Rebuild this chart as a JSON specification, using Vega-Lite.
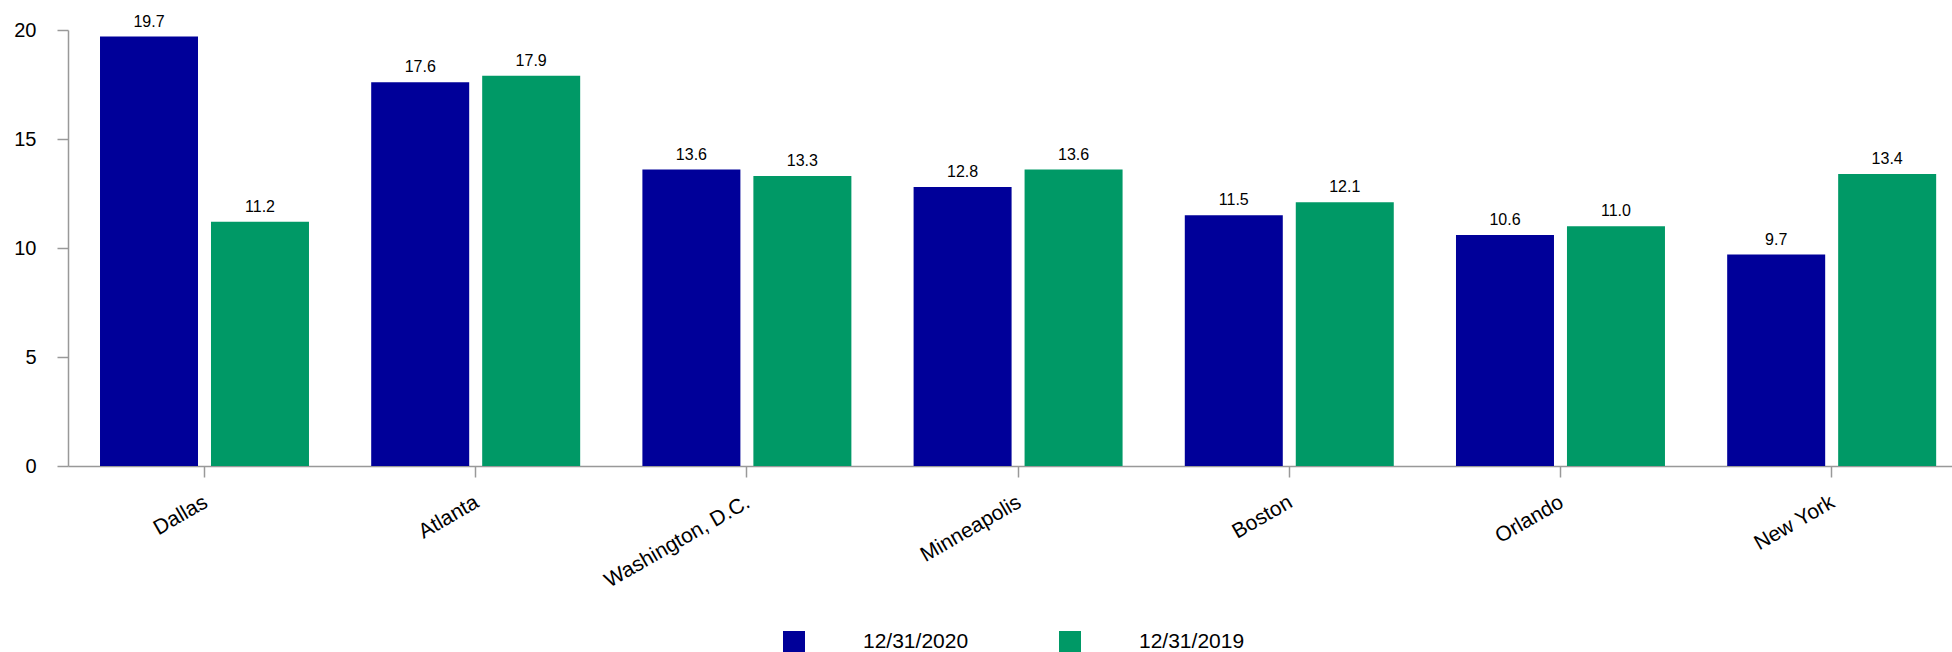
{
  "$schema": "https://vega.github.io/schema/vega-lite/v6.json",
  "autosize": {"type": "none"},
  "padding": {"left": 68, "top": 30, "right": 0, "bottom": 186},
  "width": 1884,
  "height": 436,
  "background": "white",
  "config": {
    "view": {"stroke": null},
    "font": "Liberation Sans",
    "axis": {
      "domainColor": "#999999",
      "domainWidth": 1.5,
      "tickColor": "#999999",
      "tickWidth": 1.5,
      "tickSize": 11,
      "labelColor": "#000000",
      "labelFont": "Liberation Sans",
      "grid": false,
      "title": null
    }
  },
  "data": {
    "values": [
      {"city": "Dallas", "date": "12/31/2020", "value": 19.7},
      {"city": "Dallas", "date": "12/31/2019", "value": 11.2},
      {"city": "Atlanta", "date": "12/31/2020", "value": 17.6},
      {"city": "Atlanta", "date": "12/31/2019", "value": 17.9},
      {"city": "Washington, D.C.", "date": "12/31/2020", "value": 13.6},
      {"city": "Washington, D.C.", "date": "12/31/2019", "value": 13.3},
      {"city": "Minneapolis", "date": "12/31/2020", "value": 12.8},
      {"city": "Minneapolis", "date": "12/31/2019", "value": 13.6},
      {"city": "Boston", "date": "12/31/2020", "value": 11.5},
      {"city": "Boston", "date": "12/31/2019", "value": 12.1},
      {"city": "Orlando", "date": "12/31/2020", "value": 10.6},
      {"city": "Orlando", "date": "12/31/2019", "value": 11.0},
      {"city": "New York", "date": "12/31/2020", "value": 9.7},
      {"city": "New York", "date": "12/31/2019", "value": 13.4}
    ]
  },
  "encoding": {
    "x": {
      "field": "city",
      "type": "nominal",
      "sort": null,
      "scale": {"paddingInner": 0.2294, "paddingOuter": 0.0882, "align": 0.669},
      "axis": {
        "labelAngle": -30,
        "labelAlign": "right",
        "labelBaseline": "top",
        "labelFontSize": 21,
        "labelPadding": 14,
        "labelOffset": -4
      }
    },
    "xOffset": {
      "field": "date",
      "type": "nominal",
      "sort": ["12/31/2020", "12/31/2019"],
      "scale": {"paddingInner": 0.117, "paddingOuter": 0}
    },
    "y": {
      "field": "value",
      "type": "quantitative",
      "scale": {"domain": [0, 20], "nice": false},
      "axis": {
        "values": [0, 5, 10, 15, 20],
        "labelFontSize": 20,
        "labelPadding": 21
      }
    }
  },
  "layer": [
    {
      "mark": {"type": "bar"},
      "encoding": {
        "color": {
          "field": "date",
          "type": "nominal",
          "scale": {"domain": ["12/31/2020", "12/31/2019"], "range": ["#000099", "#009966"]},
          "legend": {
            "orient": "none",
            "legendX": 715,
            "legendY": 601,
            "direction": "horizontal",
            "title": null,
            "symbolType": "square",
            "symbolSize": 484,
            "symbolStrokeWidth": 0,
            "symbolOpacity": 1,
            "labelFontSize": 21,
            "labelColor": "#000000",
            "labelOffset": 58,
            "columnPadding": 90,
            "padding": 0
          }
        }
      }
    },
    {
      "mark": {"type": "text", "baseline": "alphabetic", "dy": -10, "fontSize": 16, "color": "#000000"},
      "encoding": {
        "text": {"field": "value", "type": "quantitative", "format": ".1f"}
      }
    }
  ]
}
